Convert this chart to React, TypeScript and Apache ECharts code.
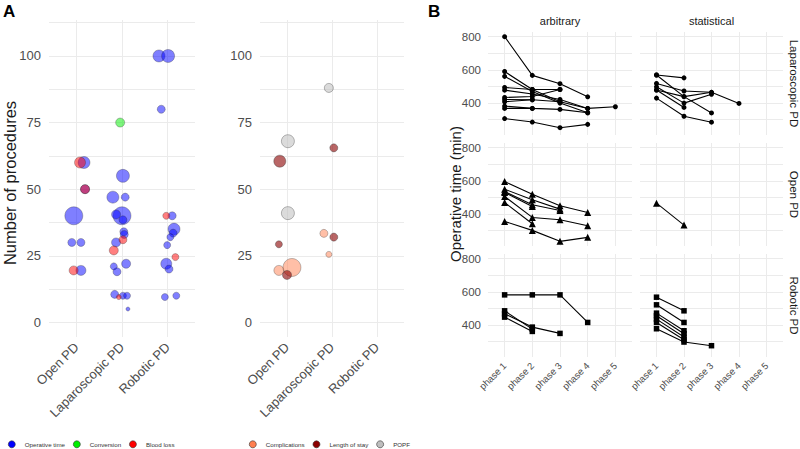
import React, { useEffect, useRef } from "react";
import * as echarts from "echarts";

// ---------- Panel A data ----------
const procCategories = ["Open PD", "Laparoscopic PD", "Robotic PD"];
// [category position (index + jitter), number of procedures, relative weight]
const operativeTime: number[][] = [
  [-0.056, 40, 9], [-0.1, 30, 4], [0.1, 30, 4], [0.1, 19.5, 5], [0.167, 60, 6], [0.19, 50, 4.5],
  [1.02, 55, 6.5], [0.8, 47, 6], [1.07, 47, 4], [1.0, 40, 9], [0.87, 40.5, 4.5], [1.02, 38.5, 4],
  [1.04, 34, 4], [1.05, 33, 4], [0.87, 30, 4.5], [1.09, 22, 4.5], [0.82, 21, 3.5], [0.89, 19, 4],
  [0.84, 10.5, 4], [1.02, 10, 3.5], [1.11, 10, 3.5], [1.13, 5, 2],
  [1.81, 100, 6], [2.01, 100, 6.5], [1.86, 80, 4], [2.1, 40, 4], [2.14, 35, 6], [2.12, 33.5, 4],
  [2.06, 32, 3.5], [1.99, 29, 3.5], [1.97, 22, 5.5], [2.03, 20, 4], [1.94, 9.5, 3.5], [2.19, 10, 3.5],
];
const conversion: number[][] = [[0.96, 75, 4.5]];
const bloodLoss: number[][] = [
  [0.08, 60, 5.5], [0.19, 50, 4.5], [-0.06, 19.5, 4.5],
  [1.02, 31, 4], [0.82, 27, 4.5], [0.93, 9.5, 2.5],
  [1.97, 40, 3.5], [2.17, 24.5, 3.5],
];
const complications: number[][] = [
  [-0.18, 19.5, 5], [0.11, 20.6, 9], [0.82, 33.4, 4], [0.93, 25.5, 3],
];
const lengthOfStay: number[][] = [
  [-0.16, 60.5, 6], [-0.18, 29.3, 3.5], [0.0, 17.8, 4.5], [1.04, 65.5, 4], [1.04, 32, 4],
];
const popf: number[][] = [[0.02, 68, 6.5], [0.02, 41, 6.5], [0.93, 88, 4.5]];

const aYTicks = [0, 25, 50, 75, 100];
const aYMinor = [0, 12.5, 25, 37.5, 50, 62.5, 75, 87.5, 100, 112.5];

// ---------- Panel B data ----------
const phaseLabels = ["phase 1", "phase 2", "phase 3", "phase 4", "phase 5"];
const bYTicks = [400, 600, 800];
const bYGrid = [300, 400, 500, 600, 700, 800];
const rowNames = ["Laparoscopic PD", "Open PD", "Robotic PD"];
const colNames = ["arbitrary", "statistical"];

type Study = (number | null)[];
const lapArbitrary: Study[] = [
  [800, 567, 517, 438, null],
  [590, 482, 408, 368, 378],
  [561, 470, 400, 342, null],
  [494, 482, 482, null, null],
  [478, 455, 422, 368, null],
  [434, 440, 482, null, null],
  [422, 420, 408, null, null],
  [408, 420, null, null, null],
  [382, 368, 362, 342, null],
  [368, 368, null, null, null],
  [307, 286, 252, 272, null],
];
const lapStatistical: Study[] = [
  [569, 552, null, null, null],
  [569, 439, 341, null, null],
  [518, 473, 465, 398, null],
  [498, 400, 453, null, null],
  [479, 439, 465, null, null],
  [479, 374, null, null, null],
  [430, 321, 285, null, null],
];
const openArbitrary: Study[] = [
  [596, 520, 450, 410, null],
  [550, 486, 430, null, null],
  [536, 456, 422, null, null],
  [530, 446, null, null, null],
  [506, 380, 366, 330, null],
  [470, 342, null, null, null],
  [356, 302, 236, 260, null],
];
const openStatistical: Study[] = [[466, 334, null, null, null]];
const roboticArbitrary: Study[] = [
  [582, 582, 582, 416, null],
  [486, 376, null, null, null],
  [468, 388, 350, null, null],
  [448, 362, null, null, null],
];
const roboticStatistical: Study[] = [
  [568, 486, null, null, null],
  [522, 416, null, null, null],
  [472, 366, null, null, null],
  [456, 348, null, null, null],
  [436, 328, null, null, null],
  [416, 312, null, null, null],
  [378, 298, 276, null, null],
];
const facets: Study[][][] = [
  [lapArbitrary, lapStatistical],
  [openArbitrary, openStatistical],
  [roboticArbitrary, roboticStatistical],
];

// ---------- styling ----------
const FONT = "'Liberation Sans', Arial, sans-serif";
const GRID = "#EBEBEB";
const TICK = "#4D4D4D";
const rowSymbols = ["circle", "triangle", "rect"];
const rowSymbolSize = [5, 7, 5.5];

function buildOption() {
  const grids: any[] = [
    { left: 49, top: 20, width: 146, height: 317 },
    { left: 260, top: 20, width: 144, height: 317 },
  ];
  const xAxes: any[] = [];
  const yAxes: any[] = [];
  for (let i = 0; i < 2; i++) {
    xAxes.push({
      type: "value", gridIndex: i, min: -0.6, max: 2.6,
      axisLine: { show: false },
      axisTick: { show: false, customValues: [0, 1, 2] },
      splitLine: { show: true, lineStyle: { color: GRID, width: 1 } },
      axisLabel: {
        customValues: [0, 1, 2], formatter: (v: number) => procCategories[Math.round(v)] ?? "",
        rotate: 45, margin: 8, fontSize: 13, color: TICK, fontFamily: FONT,
      },
    });
    yAxes.push({
      type: "value", gridIndex: i, min: -5.5, max: 113.5,
      axisLine: { show: false },
      axisTick: { show: false, customValues: aYMinor },
      splitLine: { show: true, lineStyle: { color: GRID, width: 1 } },
      axisLabel: { customValues: aYTicks, margin: 8, fontSize: 13, color: TICK, fontFamily: FONT },
    });
  }
  const colLeft = [488, 640];
  const colWidth = [144, 143];
  const rowTop = [32, 143, 254];
  const series: any[] = [];
  const scatter = (name: string, data: number[][], color: string, grid: number, opacity = 0.5) => ({
    name, type: "scatter", xAxisIndex: grid, yAxisIndex: grid, data,
    symbolSize: (d: number[]) => d[2] * 2,
    itemStyle: { color, opacity, borderColor: "#2a2a2a", borderWidth: 0.6 },
  });
  series.push(scatter("Operative time", operativeTime, "#0000FF", 0));
  series.push(scatter("Conversion", conversion, "#00EE00", 0));
  series.push(scatter("Blood loss", bloodLoss, "#FF0000", 0));
  series.push(scatter("Complications", complications, "#FF7F50", 1));
  series.push(scatter("Length of stay", lengthOfStay, "#8B0000", 1, 0.6));
  series.push(scatter("POPF", popf, "#BEBEBE", 1, 0.55));

  let gi = 2;
  for (let r = 0; r < 3; r++) {
    for (let c = 0; c < 2; c++) {
      grids.push({ left: colLeft[c], top: rowTop[r], width: colWidth[c], height: 103 });
      xAxes.push({
        type: "value", gridIndex: gi, min: -0.6, max: 4.6,
        axisLine: { show: false },
        axisTick: { show: false, customValues: [0, 1, 2, 3, 4] },
        splitLine: { show: true, lineStyle: { color: GRID, width: 1 } },
        axisLabel: {
          show: r === 2, customValues: [0, 1, 2, 3, 4],
          formatter: (v: number) => phaseLabels[Math.round(v)] ?? "",
          rotate: 45, margin: 7, fontSize: 9.5, color: TICK, fontFamily: FONT,
        },
      });
      yAxes.push({
        type: "value", gridIndex: gi, min: 208, max: 828,
        axisLine: { show: false },
        axisTick: { show: false, customValues: bYGrid },
        splitLine: { show: true, lineStyle: { color: GRID, width: 1 } },
        axisLabel: { show: c === 0, customValues: bYTicks, margin: 7, fontSize: 11.5, color: TICK, fontFamily: FONT },
      });
      facets[r][c].forEach((study) => {
        series.push({
          type: "line", xAxisIndex: gi, yAxisIndex: gi,
          data: study.map((v, i) => [i, v]).filter((p) => p[1] !== null),
          symbol: rowSymbols[r], symbolSize: rowSymbolSize[r], showSymbol: true,
          lineStyle: { color: "#000", width: 1.1 }, itemStyle: { color: "#000" },
          silent: true,
        });
      });
      gi++;
    }
  }

  const txt = (text: string, x: number, y: number, fontSize: number, extra: any = {}) => ({
    type: "text", x, y, rotation: extra.rotation ?? 0,
    style: {
      text, fontSize, fontFamily: FONT, fill: extra.fill ?? "#000",
      fontWeight: extra.fontWeight ?? "normal",
      align: extra.align ?? "center", verticalAlign: extra.verticalAlign ?? "middle",
    },
  });
  const graphic = [
    txt("A", 3, 11, 17, { fontWeight: "bold", align: "left" }),
    txt("B", 428, 11, 17, { fontWeight: "bold", align: "left" }),
    txt("Number of procedures", 10, 183, 16.5, { rotation: Math.PI / 2, fill: "#1A1A1A" }),
    txt("Operative time (min)", 455, 194, 15, { rotation: Math.PI / 2, fill: "#1A1A1A" }),
    txt(colNames[0], 560, 21, 11, { fill: "#1A1A1A" }),
    txt(colNames[1], 711.5, 21, 11, { fill: "#1A1A1A" }),
    ...rowNames.map((n, r) => txt(n, 794, rowTop[r] + 51.5, 11.5, { rotation: -Math.PI / 2, fill: "#1A1A1A" })),
  ];

  const legendBase = {
    orient: "horizontal", top: 440.5, padding: 0, itemWidth: 16, itemHeight: 7, itemGap: 8,
    icon: "circle", symbolKeepAspect: true,
    itemStyle: { opacity: 1, borderColor: "#333", borderWidth: 0.6 },
    textStyle: { fontSize: 6.2, color: "#333", fontFamily: FONT },
    selectedMode: false,
  };
  return {
    animation: false,
    backgroundColor: "#fff",
    grid: grids,
    xAxis: xAxes,
    yAxis: yAxes,
    series,
    graphic,
    legend: [
      { ...legendBase, left: 8, data: ["Operative time", "Conversion", "Blood loss"] },
      { ...legendBase, left: 249, data: ["Complications", "Length of stay", "POPF"] },
    ],
  };
}

export default function App() {
  const ref = useRef<HTMLDivElement>(null);
  useEffect(() => {
    const chart = echarts.init(ref.current!, null, { renderer: "svg" });
    chart.setOption(buildOption() as any);
    return () => chart.dispose();
  }, []);
  return <div ref={ref} style={{ position: "fixed", left: 0, top: 0, width: 800, height: 449 }} />;
}
